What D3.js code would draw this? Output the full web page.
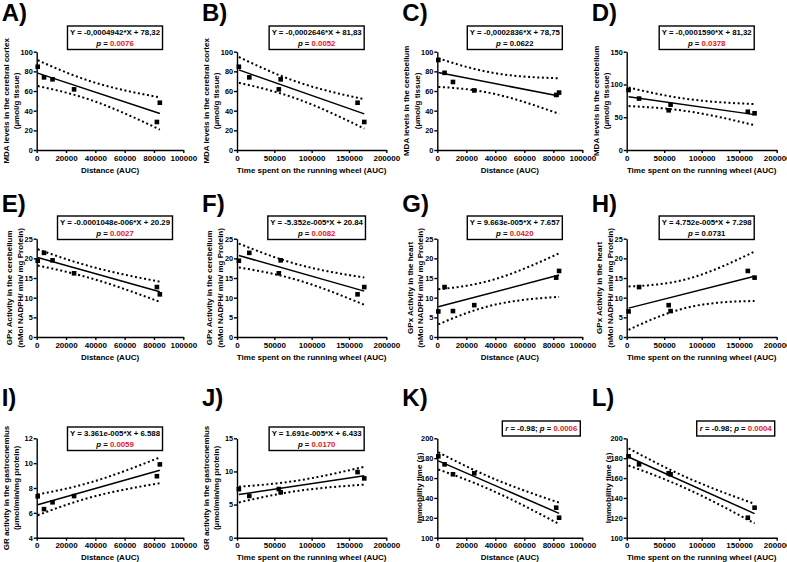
<!DOCTYPE html>
<html>
<head>
<meta charset="utf-8">
<script src="https://cdn.jsdelivr.net/npm/d3@7"></script>
<style>
body { margin: 0; background: #fff; }
svg text { font-family: "Liberation Sans", Arial, sans-serif; font-weight: bold; }
</style>
</head>
<body>
<svg id="chart" width="787" height="562"></svg>
<script>
// same six animals in every panel
var distance = [700, 5000, 10800, 25500, 82000, 84000];
var timeWheel = [2500, 16500, 58500, 56000, 170500, 161500];

var mdaCortex = [84.7, 73.9, 71.9, 61.7, 28.5, 48.1];
var mdaCerebellum = [91.5, 78.5, 69.2, 60.6, 56.0, 58.4];
var gpxCerebellum = [19.4, 21.4, 19.5, 16.2, 12.7, 10.85];
var gpxHeart = [6.5, 12.7, 6.6, 8.1, 15.1, 16.8];
var grGastro = [7.33, 6.3, 6.85, 7.35, 8.95, 9.9];
var immobility = [181.9, 173.8, 163.8, 164.8, 130.2, 120.1];

var distTicks = [0, 20000, 40000, 60000, 80000, 100000];
var timeTicks = [0, 50000, 100000, 150000, 200000];
var mdaTicks = [0, 20, 40, 60, 80, 100];
var mdaTicksD = [0, 50, 100, 150];
var gpxTicks = [0, 5, 10, 15, 20, 25];
var grTicksI = [4, 6, 8, 10, 12];
var grTicksJ = [0, 5, 10, 15];
var immTicks = [100, 120, 140, 160, 180, 200];

var letters = ['A)', 'B)', 'C)', 'D)', 'E)', 'F)', 'G)', 'H)', 'I)', 'J)', 'K)', 'L)'];
var xTitles = ['Distance (AUC)', 'Time spent on the running wheel (AUC)'];
var yTitles = [
    ['MDA levels in the cerebral cortex', '(\u00b5mol/g tissue)'],
    ['MDA levels in the cerebellum', '(\u00b5mol/g tissue)'],
    ['GPx Activity in the cerebellum', '(nMol NADPH/ min/ mg Protein)'],
    ['GPx Activity in the heart', '(nMol NADPH/ min/ mg Protein)'],
    ['GR activity in the gastrocnemius', '(\u00b5mol/min/mg protein)'],
    ['Immobility time (s)']
];
var equations = [
    'Y = -0,0004942*X + 78,32', 'Y = -0,0002646*X + 81,83',
    'Y = -0,0002836*X + 78,75', 'Y = -0,0001590*X + 81,32',
    'Y = -0.0001048e-006*X + 20.29', 'Y = -5.352e-005*X + 20.84',
    'Y = 9.663e-005*X + 7.657', 'Y = 4.752e-005*X + 7.298',
    'Y = 3.361e-005*X + 6.588', 'Y = 1.691e-005*X + 6.433',
    null, null
];
var rValues = [null, null, null, null, null, null, null, null, null, null, '-0.98', '-0.98'];
var pValues = ['0.0076', '0.0052', '0.0622', '0.0378', '0.0027', '0.0082',
               '0.0420', '0.0731', '0.0059', '0.0170', '0.0006', '0.0004'];
var pSignificant = [true, true, false, true, true, true, true, false, true, true, true, true];

var panels = [
    {x: distance, y: mdaCortex, xt: distTicks, yt: mdaTicks, ttl: 0},
    {x: timeWheel, y: mdaCortex, xt: timeTicks, yt: mdaTicks, ttl: 0},
    {x: distance, y: mdaCerebellum, xt: distTicks, yt: mdaTicks, ttl: 1},
    {x: timeWheel, y: mdaCerebellum, xt: timeTicks, yt: mdaTicksD, ttl: 1},
    {x: distance, y: gpxCerebellum, xt: distTicks, yt: gpxTicks, ttl: 2},
    {x: timeWheel, y: gpxCerebellum, xt: timeTicks, yt: gpxTicks, ttl: 2},
    {x: distance, y: gpxHeart, xt: distTicks, yt: gpxTicks, ttl: 3},
    {x: timeWheel, y: gpxHeart, xt: timeTicks, yt: gpxTicks, ttl: 3},
    {x: distance, y: grGastro, xt: distTicks, yt: grTicksI, ttl: 4},
    {x: timeWheel, y: grGastro, xt: timeTicks, yt: grTicksJ, ttl: 4},
    {x: distance, y: immobility, xt: distTicks, yt: immTicks, ttl: 5},
    {x: timeWheel, y: immobility, xt: timeTicks, yt: immTicks, ttl: 5}
];

var colX = [[36.7, 183.3], [237, 386.3], [437.3, 582.3], [626.7, 776.7]];
var rowY = [[150, 51.7], [337, 238.7], [537.7, 438.3]];
var boxTop = [26, 216, 427];
var red = '#e3161c';
var tCrit = 2.776; // t(0.975, df = 4)

var svg = d3.select('#chart');

// least squares fit + 95% confidence band of the line
function fit(xs, ys) {
    var n = xs.length,
        mx = d3.mean(xs),
        my = d3.mean(ys),
        sxx = d3.sum(xs, function(v) { return (v - mx) * (v - mx); }),
        sxy = d3.sum(xs, function(v, i) { return (v - mx) * (ys[i] - my); }),
        b = sxy / sxx,
        a = my - b * mx,
        ss = d3.sum(xs, function(v, i) { var r = ys[i] - (a + b * v); return r * r; }),
        s = Math.sqrt(ss / (n - 2));
    return {
        f: function(v) { return a + b * v; },
        hw: function(v) { return tCrit * s * Math.sqrt(1 / n + (v - mx) * (v - mx) / sxx); }
    };
}

panels.forEach(function(p, i) {
    var col = i % 4,
        row = Math.floor(i / 4);
    var x = d3.scaleLinear().domain(d3.extent(p.xt)).range(colX[col]);
    var y = d3.scaleLinear().domain(d3.extent(p.yt)).range(rowY[row]);
    var g = svg.append('g');

    // Panel letter
    g.append('text')
        .attr('x', colX[col][0] - 35)
        .attr('y', [21, 212, 406][row])
        .style('font-size', '24px')
        .text(letters[i]);

    // Axes
    var xAxis = d3.axisBottom(x).tickValues(p.xt).tickFormat(d3.format('d'))
        .tickSize(3).tickSizeOuter(0).tickPadding(2);
    var yAxis = d3.axisLeft(y).tickValues(p.yt).tickFormat(d3.format('d'))
        .tickSize(3).tickSizeOuter(0).tickPadding(1);

    var gx = g.append('g')
        .attr('transform', 'translate(0,' + rowY[row][0] + ')')
        .call(xAxis);
    var gy = g.append('g')
        .attr('transform', 'translate(' + colX[col][0] + ',0)')
        .call(yAxis);
    [gx, gy].forEach(function(a, k) {
        a.selectAll('path, line').attr('stroke', '#000').attr('stroke-width', 1.4);
        a.selectAll('text').style('font-size', k ? '7.3px' : '8px').attr('fill', '#000')
            .style('font-family', '"Liberation Sans", Arial, sans-serif').style('font-weight', 'bold');
    });

    // Axis titles
    var xc = (colX[col][0] + colX[col][1]) / 2,
        yc = (rowY[row][0] + rowY[row][1]) / 2;
    g.append('text')
        .attr('x', xc)
        .attr('y', rowY[row][0] + 22.5)
        .attr('text-anchor', 'middle')
        .style('font-size', '8px')
        .text(xTitles[col % 2]);

    var lines = yTitles[p.ttl];
    var offs = lines.length === 1 ? [18.5] : (p.ttl === 2 || p.ttl === 3 ? [27.5, 17] : [31, 20.5]);
    lines.forEach(function(t, k) {
        g.append('text')
            .attr('transform', 'translate(' + (colX[col][0] - offs[k]) + ',' + yc + ') rotate(-90)')
            .attr('text-anchor', 'middle')
            .attr('dy', '0.35em')
            .style('font-size', '8px')
            .text(t);
    });

    // Regression line and confidence band
    var m = fit(p.x, p.y),
        xr = d3.extent(p.x),
        xs = d3.range(0, 41).map(function(k) { return xr[0] + (xr[1] - xr[0]) * k / 40; });

    var line = d3.line()
        .x(function(d) { return x(d[0]); })
        .y(function(d) { return y(d[1]); });

    [1, -1].forEach(function(sign) {
        g.append('path')
            .attr('d', line(xs.map(function(v) { return [v, m.f(v) + sign * m.hw(v)]; })))
            .attr('fill', 'none')
            .attr('stroke', '#000')
            .attr('stroke-width', 2)
            .attr('stroke-dasharray', '2,2.6');
    });
    g.append('path')
        .attr('d', line(xr.map(function(v) { return [v, m.f(v)]; })))
        .attr('fill', 'none')
        .attr('stroke', '#000')
        .attr('stroke-width', 1.5);

    // Points
    g.selectAll('rect.pt')
        .data(p.x.map(function(v, k) { return [v, p.y[k]]; }))
        .enter().append('rect')
        .attr('class', 'pt')
        .attr('x', function(d) { return x(d[0]) - 2.3; })
        .attr('y', function(d) { return y(d[1]) - 2.3; })
        .attr('width', 4.6)
        .attr('height', 4.6)
        .attr('fill', '#000');

    // Equation box
    var box = g.append('g');
    var texts = [];
    if (equations[i]) {
        var top = boxTop[row];
        texts.push(box.append('text')
            .attr('x', xc + 5).attr('y', top + 6.5).attr('dy', '0.35em')
            .attr('text-anchor', 'middle').style('font-size', '7.8px')
            .text(equations[i]));
        var t2 = box.append('text')
            .attr('x', xc + 5).attr('y', top + 17).attr('dy', '0.35em')
            .attr('text-anchor', 'middle').style('font-size', '7.8px');
        t2.append('tspan').style('font-style', 'italic').text('p');
        t2.append('tspan').text(' = ');
        t2.append('tspan').attr('fill', pSignificant[i] ? red : '#000').text(pValues[i]);
        texts.push(t2);
        var w = d3.max(texts, function(t) { return t.node().getComputedTextLength(); }) + 5;
        box.insert('rect', 'text')
            .attr('x', xc + 5 - w / 2).attr('y', top)
            .attr('width', w).attr('height', 23.5)
            .attr('fill', '#fff').attr('stroke', '#000').attr('stroke-width', 1.4);
    } else {
        var t3 = box.append('text')
            .attr('x', colX[col][1] - 5).attr('y', 428.5).attr('dy', '0.35em')
            .attr('text-anchor', 'end').style('font-size', '7.8px');
        t3.append('tspan').style('font-style', 'italic').text('r');
        t3.append('tspan').text(' = ' + rValues[i] + '; ');
        t3.append('tspan').style('font-style', 'italic').text('p');
        t3.append('tspan').text(' = ');
        t3.append('tspan').attr('fill', red).text(pValues[i]);
        var w3 = t3.node().getComputedTextLength() + 6;
        box.insert('rect', 'text')
            .attr('x', colX[col][1] - 2 - w3).attr('y', 421)
            .attr('width', w3).attr('height', 15)
            .attr('fill', '#fff').attr('stroke', '#000').attr('stroke-width', 1.4);
    }
});
</script>
</body>
</html>
